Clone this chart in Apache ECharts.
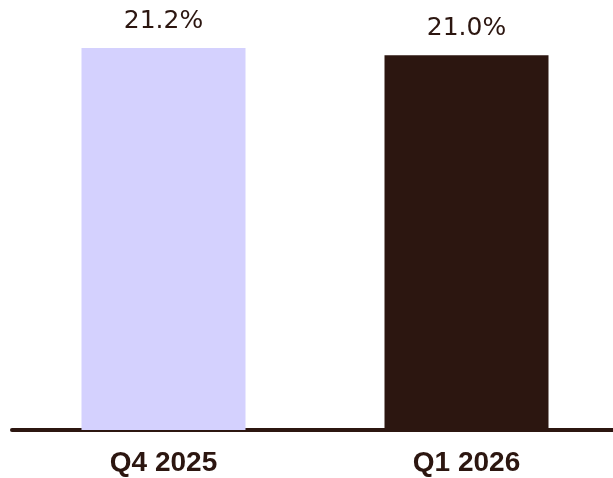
<!DOCTYPE html>
<html>
<head>
	<meta charset="utf-8">
	<title>Q4 2025 vs Q1 2026</title>
	<script type="text/javascript" src="https://cdn.jsdelivr.net/npm/echarts@6/dist/echarts.min.js"></script>
	<style>body{margin:0;background:#fff;overflow:hidden;}</style>
</head>
<body>
<div id="main" style="width: 620px; height: 478px"></div>

<script type="text/javascript">
var categories = ['Q4 2025', 'Q1 2026'];
var values = [21.2, 21.0];
var barColors = ['#d4d1fe', '#2c1610'];

var myChart = echarts.init(document.getElementById('main'));

option = {
    animation: false,
    grid: {
        left: 12,
        right: 2,
        top: 48,
        bottom: 48
    },
    xAxis: {
        type: 'category',
        data: categories,
        axisLine: {lineStyle: {color: '#2c1610', width: 4}},
        axisTick: {show: false},
        axisLabel: {
            color: '#2c1610',
            fontFamily: 'Liberation Sans',
            fontWeight: 'bold',
            fontSize: 28,
            margin: 19
        }
    },
    yAxis: {
        type: 'value',
        min: 10.75,
        max: 21.2,
        show: false,
        splitLine: {show: false}
    },
    series: [
        {
            type: 'bar',
            barWidth: 164,
            data: values.map(function (v, i) {
                return {value: v, itemStyle: {color: barColors[i]}};
            }),
            label: {
                show: true,
                position: 'top',
                distance: 14,
                color: '#2c1610',
                fontFamily: 'DejaVu Sans',
                fontSize: 25,
                formatter: function (p) {
                    return p.value.toFixed(1) + '%';
                }
            }
        }
    ]
};

myChart.setOption(option);
</script>
</body>
</html>
